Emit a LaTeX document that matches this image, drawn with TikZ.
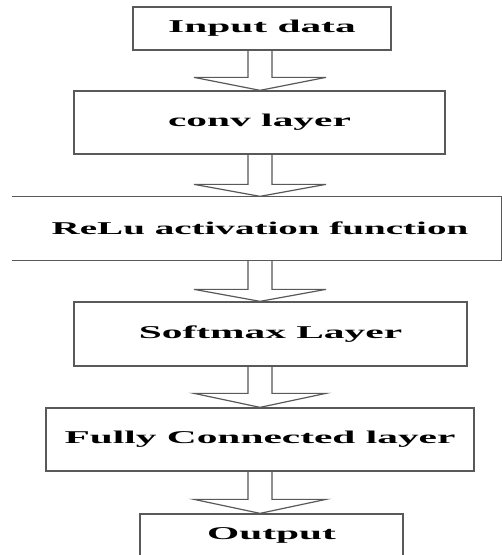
\documentclass[tikz,border=0pt]{standalone}
\usepackage{fontspec}
\usepackage{graphicx}
\setmainfont{Liberation Serif}
\usetikzlibrary{calc}
\tikzset{
  stage/.style={draw=black!65, line width=1.3pt, rectangle, inner sep=0pt, align=center,
    font=\fontsize{18}{20}\selectfont\bfseries, text=black},
  bare/.style={stage, draw=none},
  blockarrow/.style={draw=black!65, line width=1.2pt, line join=miter},
}
\newcommand{\wide}[2][2.3]{\scalebox{#1}[1]{#2}}
\begin{document}
\begin{tikzpicture}[x=1pt,y=1pt]
\useasboundingbox (0,0) rectangle (502,-555);
\fill[white] (0,0) rectangle (502,-555);
\coordinate (ax) at (260,0);
\node[stage, minimum width=258, minimum height=43] (n1) at (262,-28.5) {\wide{Input data}};
\node[stage, minimum width=371, minimum height=63] (n2) at (259.5,-122.5) {\wide{conv layer}};
\node[bare, minimum width=482, minimum height=63] (n3) at (260,-228.5) {\wide[2.17]{ReLu activation function}};
\node[stage, minimum width=393, minimum height=64] (n4) at (270.5,-334) {\wide{Softmax Layer}};
\node[stage, minimum width=428, minimum height=63] (n5) at (260,-439.5) {\wide{Fully Connected layer}};
\node[stage, minimum width=263, minimum height=43] (n6) at (271.5,-535.5) {\wide{Output}};
% ReLu box: top, right and bottom edges only
\draw[draw=black!65, line width=1.3pt] ($(n3.north west)+(-6,0)$) -- (n3.north east) -- (n3.south east) -- ($(n3.south west)+(-6,0)$);
% block arrows
\foreach \a/\b/\h in {n1/n2/13, n2/n3/12, n3/n4/12, n4/n5/14, n5/n6/14}{
  \draw[blockarrow]
    ($(ax |- \a.south)+(-12,0)$) -- ($(ax |- \b.north)+(-12,\h)$) -- ($(ax |- \b.north)+(-66,\h)$)
    -- (ax |- \b.north)
    -- ($(ax |- \b.north)+(66,\h)$) -- ($(ax |- \b.north)+(12,\h)$) -- ($(ax |- \a.south)+(12,0)$);
}
\end{tikzpicture}
\end{document}
